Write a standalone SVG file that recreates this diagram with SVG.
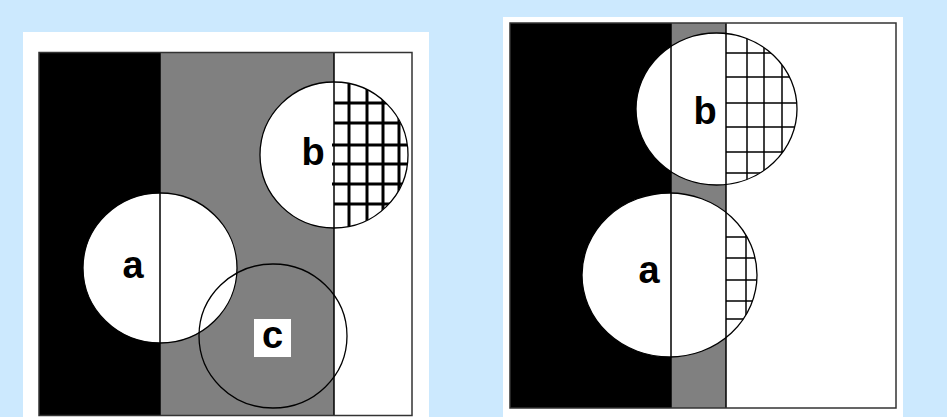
<svg xmlns="http://www.w3.org/2000/svg" width="947" height="417" viewBox="0 0 947 417">
<style>
.bg{fill:#cce9fe}
.paper{fill:#ffffff}
.blk{fill:#000000}
.gry{fill:#808080}
.wht{fill:#ffffff}
.div{stroke:#000;stroke-width:1.5;fill:none}
.frame{fill:none;stroke:#333;stroke-width:1.5}
.ring{fill:none;stroke:#000;stroke-width:1.3}
.disc{fill:#fff;stroke:none}
.gridL{stroke:#000;stroke-width:3;fill:none}
.gridR{stroke:#000;stroke-width:1.5;fill:none}
.lbl{font-family:"Liberation Sans",Arial,sans-serif;font-weight:bold;font-size:38px;fill:#000;text-anchor:middle}
</style>
<defs>
<clipPath id="clipLb"><ellipse cx="334" cy="155" rx="74" ry="73"/></clipPath>
<clipPath id="clipRb"><ellipse cx="716.5" cy="109" rx="80.5" ry="76"/></clipPath>
<clipPath id="clipRa"><ellipse cx="669.5" cy="275" rx="87.5" ry="82"/></clipPath>
</defs>
<rect class="bg" x="0" y="0" width="947" height="417"/>

<g id="left-panel">
<rect class="paper" x="23" y="32" width="406" height="385"/>
<rect class="blk" x="39" y="52" width="121" height="363"/>
<rect class="gry" x="160" y="52" width="174" height="363"/>
<rect class="wht" x="334" y="52" width="78" height="363"/>
<g id="left-a">
<ellipse class="disc" cx="160" cy="268" rx="77" ry="75"/>
</g>
<g id="left-b">
<ellipse class="disc" cx="334" cy="155" rx="74" ry="73"/>
<g clip-path="url(#clipLb)">
<path class="gridL" d="M349,80V230M367,80V230M383,80V230M399,80V230M334,103H410M334,123H410M332,145H410M332,164H410M332,184H410M334,204H410"/>
</g>
</g>
<line class="div" x1="160" y1="52" x2="160" y2="415"/>
<line class="div" x1="334" y1="52" x2="334" y2="415"/>
<ellipse class="ring" cx="160" cy="268" rx="77" ry="75"/>
<ellipse class="ring" cx="334" cy="155" rx="74" ry="73"/>
<g id="left-c">
<ellipse class="ring" cx="273" cy="336" rx="74" ry="72"/>
<rect class="wht" x="254" y="319" width="37" height="38"/>
<text class="lbl" x="272.5" y="348">c</text>
</g>
<text class="lbl" x="133" y="278">a</text>
<text class="lbl" x="313" y="165">b</text>
<rect class="frame" x="39" y="52.5" width="373" height="363"/>
</g>

<g id="right-panel">
<rect class="paper" x="503" y="17" width="400" height="400"/>
<rect class="blk" x="510" y="23" width="161" height="385"/>
<rect class="gry" x="671" y="23" width="55" height="385"/>
<rect class="wht" x="726" y="23" width="170" height="385"/>
<g id="right-b">
<ellipse class="disc" cx="716.5" cy="109" rx="80.5" ry="76"/>
<g clip-path="url(#clipRb)">
<path class="gridR" d="M747,30V190M764,30V190M782,30V190M726,53H800M726,77H800M726,103H800M726,127H800M726,152H800M726,173H800"/>
</g>
</g>
<g id="right-a">
<ellipse class="disc" cx="669.5" cy="275" rx="87.5" ry="82"/>
<g clip-path="url(#clipRa)">
<path class="gridR" d="M746,190V360M726,237H760M726,258H760M726,280H760M726,301H760M726,319H760"/>
</g>
</g>
<line class="div" x1="671" y1="23" x2="671" y2="408"/>
<line class="div" x1="726" y1="23" x2="726" y2="408"/>
<ellipse class="ring" cx="716.5" cy="109" rx="80.5" ry="76"/>
<ellipse class="ring" cx="669.5" cy="275" rx="87.5" ry="82"/>
<text class="lbl" x="705" y="124">b</text>
<text class="lbl" x="649" y="283">a</text>
<rect class="frame" x="510" y="23" width="386" height="385"/>
</g>
</svg>
